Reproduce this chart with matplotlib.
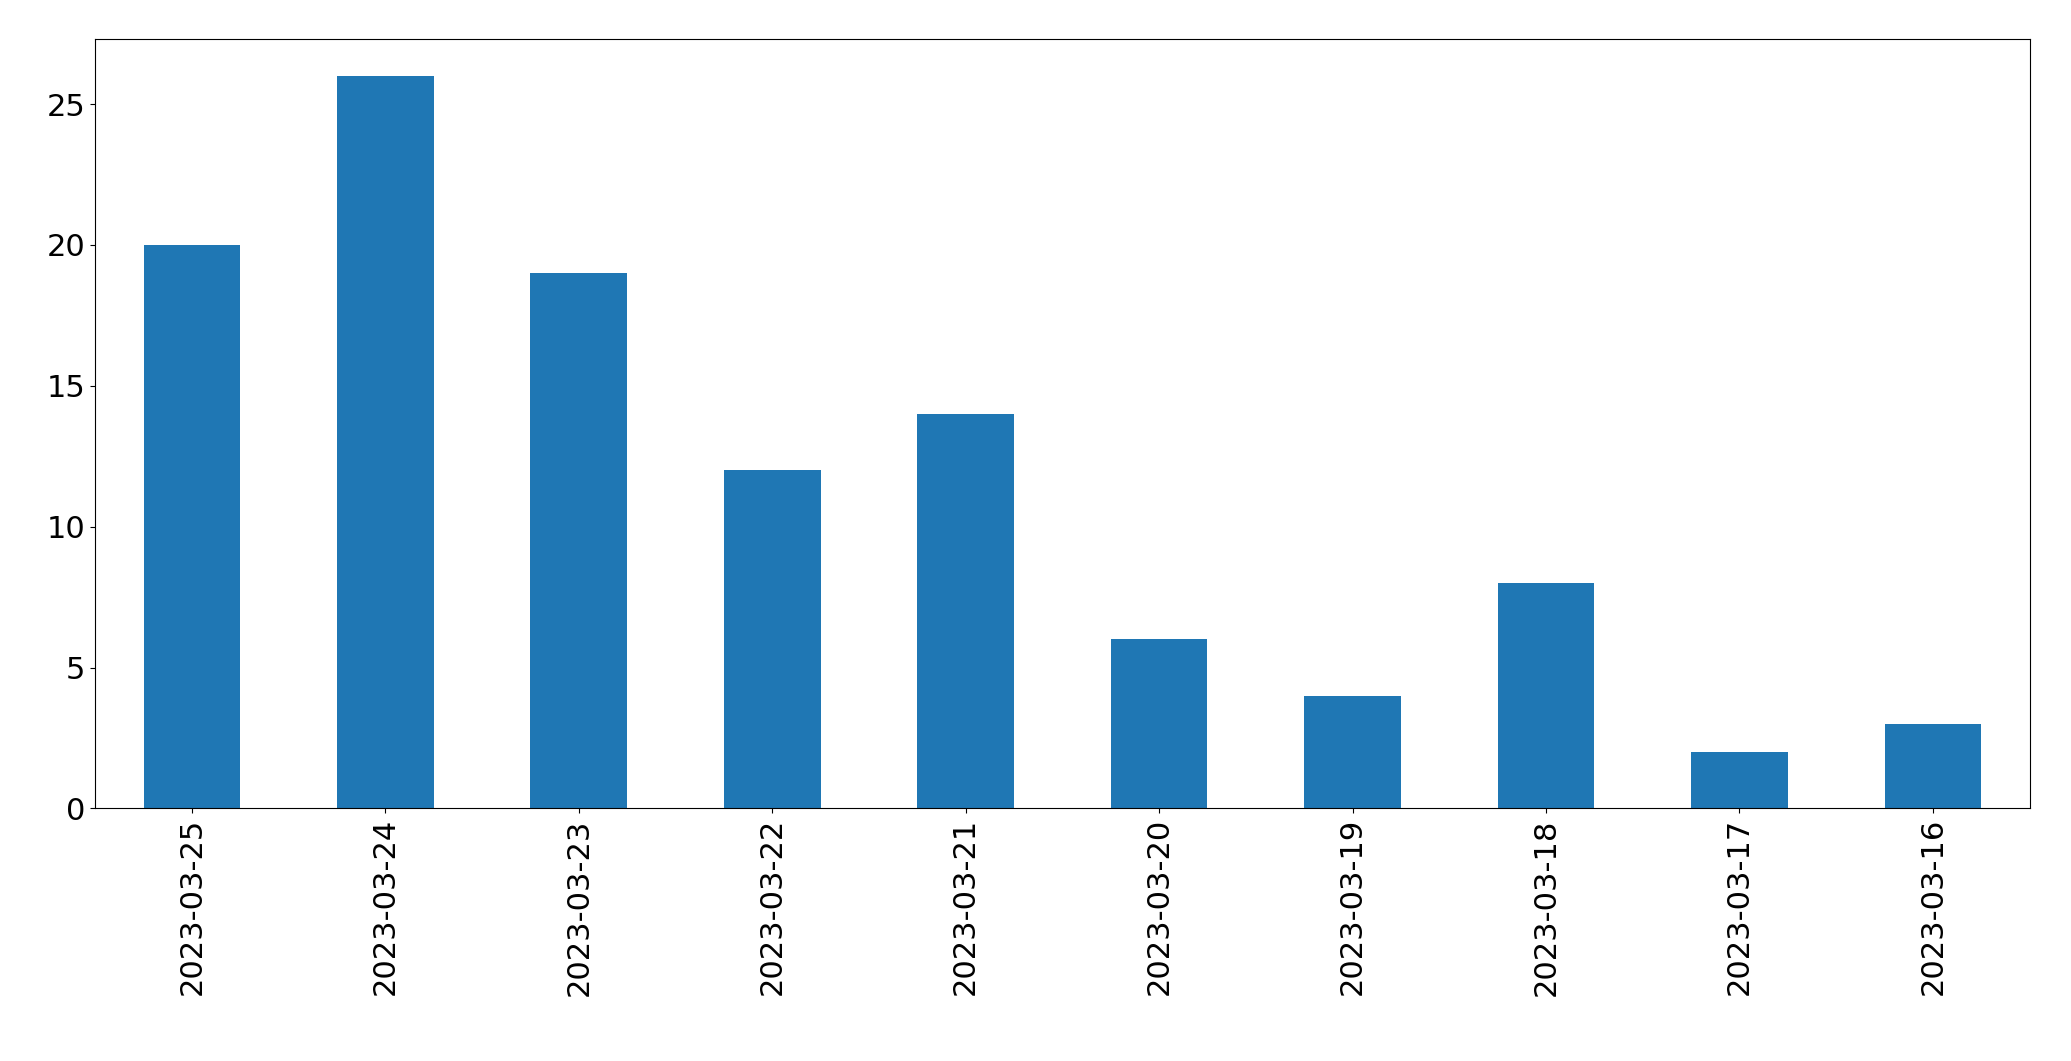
import matplotlib
matplotlib.use("Agg")
import matplotlib.pyplot as plt

dates = ["2023-03-25","2023-03-24","2023-03-23","2023-03-22","2023-03-21",
         "2023-03-20","2023-03-19","2023-03-18","2023-03-17","2023-03-16"]
counts = [20, 26, 19, 12, 14, 6, 4, 8, 2, 3]

fig = plt.figure(figsize=(20.71, 10.61), dpi=100)
ax = fig.add_axes([0.046, 0.238, 0.934, 0.725])
x = range(len(dates))
ax.bar(x, counts, width=0.5, color="#1f77b4")
ax.set_xticks(list(x))
ax.set_xticklabels(dates, rotation=90)
ax.set_xlim(-0.5, len(dates) - 0.5)
ax.set_ylim(0, 27.3)
ax.set_yticks([0, 5, 10, 15, 20, 25])
ax.tick_params(labelsize=22)
fig.savefig("out.png", dpi=100)
